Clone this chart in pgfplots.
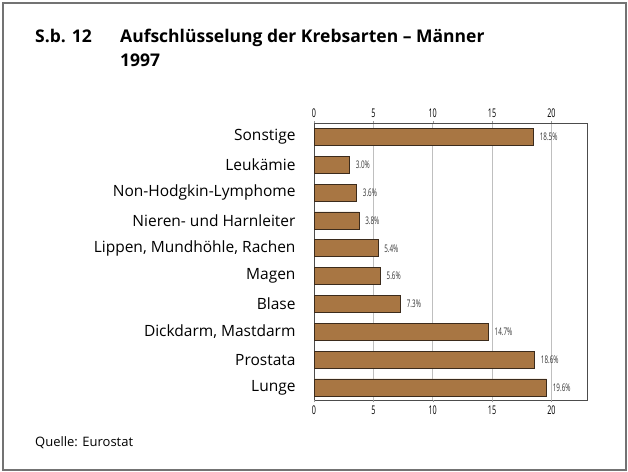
\documentclass[border=0pt]{standalone}
\usepackage{pgfplots}
\pgfplotsset{compat=1.18}
\usepackage{fontspec}
\setmainfont{Open Sans}
\newfontfamily\condfont[FakeStretch=0.6]{Open Sans}
\definecolor{barbrown}{HTML}{A87643}
\definecolor{baredge}{HTML}{3B2B1C}
\begin{document}
\begin{tikzpicture}
\path[use as bounding box] (0bp,0bp) rectangle (628bp,-472bp);
\draw[line width=1.2bp, black!55] (3bp,-3bp) rectangle (626bp,-470bp);
\node[anchor=base west, inner sep=0pt, font=\fontsize{17.5bp}{20bp}\selectfont\bfseries] at (35bp,-42bp) {S.b. 12};
\node[anchor=base west, inner sep=0pt, font=\fontsize{17.5bp}{20bp}\selectfont\bfseries] at (120bp,-42bp) {Aufschlüsselung der Krebsarten – Männer};
\node[anchor=base west, inner sep=0pt, font=\fontsize{17.5bp}{20bp}\selectfont\bfseries] at (120bp,-66bp) {1997};
\node[anchor=base west, inner sep=0pt, font=\fontsize{13bp}{15bp}\selectfont] at (35bp,-446bp) {Quelle: Eurostat};
\begin{axis}[
  at={(314bp,-123bp)}, anchor=north west,
  width=273bp, height=277bp, scale only axis,
  xbar, bar width=17bp,
  xmin=0, xmax=23, ymin=-0.45, ymax=9.5,
  xtick={0,5,10,15,20},
  xticklabel style={font=\condfont\fontsize{12bp}{13bp}\selectfont},
  /pgf/number format/assume math mode=true,
  xtick pos=both, xticklabel pos=lower,
  extra x ticks={0,5,10,15,20},
  extra x tick style={xticklabel pos=upper, grid=none},
  xmajorgrids, major grid style={black!25, line width=0.8bp},
  tick align=outside, major tick length=2bp,
  tick style={black!40},
  ytick={0,...,9}, ytick style={draw=none},
  yticklabels={Lunge,Prostata,{Dickdarm, Mastdarm},Blase,Magen,{Lippen, Mundhöhle, Rachen},Nieren- und Harnleiter,Non-Hodgkin-Lymphome,Leukämie,Sonstige},
  yticklabel style={font=\fontsize{15.5bp}{17bp}\selectfont, xshift=-13bp},
  axis line style={black!70, line width=0.8bp},
  nodes near coords={\pgfmathprintnumber[fixed,fixed zerofill,precision=1]{\pgfplotspointmeta}\%},
  nodes near coords style={font=\condfont\fontsize{10.5bp}{12bp}\selectfont, anchor=west, xshift=2.5bp, black!80},
  point meta=x,
]
\addplot[fill=barbrown, draw=baredge, line width=0.8bp] coordinates {
(19.6,0) (18.6,1) (14.7,2) (7.3,3) (5.6,4) (5.4,5) (3.8,6) (3.6,7) (3.0,8) (18.5,9)
};
\end{axis}
\end{tikzpicture}
\end{document}
